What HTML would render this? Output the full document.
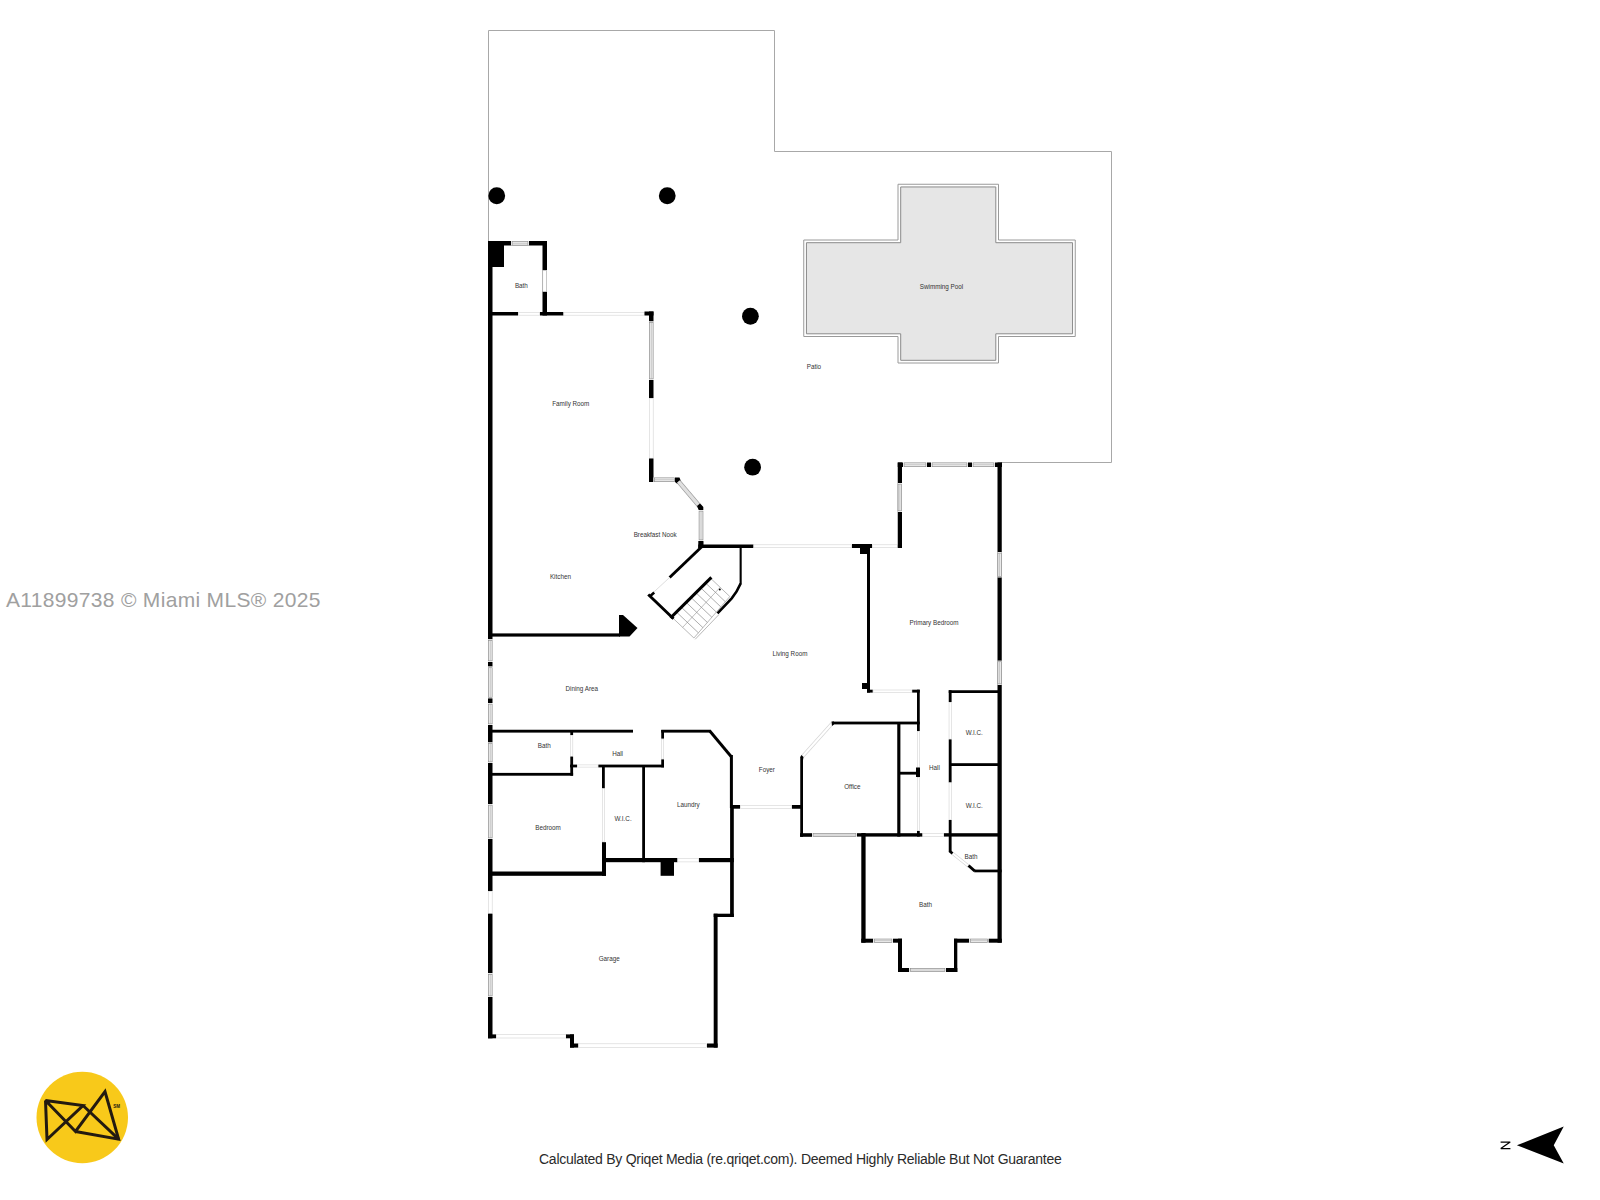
<!DOCTYPE html>
<html><head><meta charset="utf-8">
<style>
html,body{margin:0;padding:0;background:#fff;}
body{width:1600px;height:1200px;position:relative;overflow:hidden;font-family:"Liberation Sans",sans-serif;}
svg{position:absolute;left:0;top:0;}
.wm{position:absolute;left:6px;top:587.5px;font-size:21px;line-height:24px;color:#a0a0a0;white-space:nowrap;letter-spacing:0.32px;}
.foot{position:absolute;left:539px;top:1150px;font-size:14px;line-height:18px;color:#2a2a2a;white-space:nowrap;letter-spacing:-0.255px;}
</style></head><body>
<svg width="1600" height="1200" viewBox="0 0 1600 1200" font-family="Liberation Sans, sans-serif">
<g fill="#333">
<polyline points="488.5,241 488.5,30.5 774.5,30.5 774.5,151.5 1111.5,151.5 1111.5,462.5 1001,462.5" fill="none" stroke="#a8a8a8" stroke-width="1"/>
<circle cx="496.75" cy="195.75" r="8.4" fill="#000"/>
<circle cx="667.25" cy="195.75" r="8.4" fill="#000"/>
<circle cx="750.4" cy="316.25" r="8.4" fill="#000"/>
<circle cx="752.6" cy="467.2" r="8.4" fill="#000"/>
<polygon points="898,184.25 998.5,184.25 998.5,240 1075.25,240 1075.25,336.5 998.5,336.5 998.5,363 898,363 898,336.5 803.75,336.5 803.75,240 898,240" fill="#fff" stroke="#9a9a9a" stroke-width="1"/>
<polygon points="900.7,186.95 995.8,186.95 995.8,242.7 1072.55,242.7 1072.55,333.8 995.8,333.8 995.8,360.3 900.7,360.3 900.7,333.8 806.45,333.8 806.45,242.7 900.7,242.7" fill="#e6e6e6" stroke="#8a8a8a" stroke-width="1"/>
<rect x="488" y="241" width="4.5" height="398.4" fill="#000"/>
<rect x="488" y="241" width="16" height="26" fill="#000"/>
<rect x="488" y="241" width="59" height="4.5" fill="#000"/>
<rect x="511" y="241" width="18" height="4.5" fill="#fff"/>
<rect x="512.1" y="241.35" width="15.8" height="3.8" fill="#f0f0f0" stroke="#8e8e8e" stroke-width="0.7"/>
<line x1="512.1" y1="243.25" x2="527.9" y2="243.25" stroke="#a8a8a8" stroke-width="0.6"/>
<rect x="542.5" y="241" width="4.5" height="74.5" fill="#000"/>
<rect x="542.8" y="270.3" width="3.9" height="21.4" fill="#fff" stroke="#d4d4d4" stroke-width="0.6"/>
<rect x="492" y="312" width="26" height="3.5" fill="#000"/>
<rect x="518.3" y="312.3" width="21.4" height="2.9" fill="#fff" stroke="#d4d4d4" stroke-width="0.6"/>
<rect x="540" y="312" width="23.5" height="3.5" fill="#000"/>
<rect x="563.8" y="312.3" width="80.4" height="2.9" fill="#fff" stroke="#d4d4d4" stroke-width="0.6"/>
<rect x="644.5" y="311.5" width="9" height="4" fill="#000"/>
<rect x="649" y="311.5" width="4.5" height="10" fill="#000"/>
<rect x="649" y="321.5" width="4.5" height="58.5" fill="#fff"/>
<rect x="649.35" y="322.6" width="3.8" height="56.3" fill="#f0f0f0" stroke="#8e8e8e" stroke-width="0.7"/>
<line x1="651.25" y1="322.6" x2="651.25" y2="378.9" stroke="#a8a8a8" stroke-width="0.6"/>
<rect x="649" y="380" width="4.5" height="18" fill="#000"/>
<rect x="649.3" y="398.3" width="3.9" height="59.9" fill="#fff" stroke="#d4d4d4" stroke-width="0.6"/>
<rect x="649" y="458.5" width="4.5" height="23.5" fill="#000"/>
<rect x="653.5" y="477.5" width="22" height="4.5" fill="#fff"/>
<rect x="654.6" y="477.85" width="19.8" height="3.8" fill="#f0f0f0" stroke="#8e8e8e" stroke-width="0.7"/>
<line x1="654.6" y1="479.75" x2="674.4" y2="479.75" stroke="#a8a8a8" stroke-width="0.6"/>
<polygon points="675,477.5 679.5,477.5 681,481.5 677.5,484 675,482" fill="#000"/>
<line x1="678.5" y1="481.5" x2="701" y2="508" stroke="#9a9a9a" stroke-width="4.6"/>
<line x1="678.5" y1="481.5" x2="701" y2="508" stroke="#e0e0e0" stroke-width="3.4"/>
<polygon points="697,506 700,503.5 703.3,507 703.3,510 698.7,510" fill="#000"/>
<rect x="698.75" y="510" width="4.55" height="31" fill="#fff"/>
<rect x="699.1" y="511.1" width="3.85" height="28.8" fill="#f0f0f0" stroke="#8e8e8e" stroke-width="0.7"/>
<line x1="701.025" y1="511.1" x2="701.025" y2="539.9" stroke="#a8a8a8" stroke-width="0.6"/>
<rect x="698.3" y="541" width="5" height="7" fill="#000"/>
<rect x="698.3" y="544.5" width="55.2" height="3.5" fill="#000"/>
<rect x="753.8" y="544.8" width="97.9" height="2.9" fill="#fff" stroke="#d4d4d4" stroke-width="0.6"/>
<rect x="852" y="544" width="20" height="4" fill="#000"/>
<rect x="860" y="548" width="10" height="6" fill="#000"/>
<rect x="872.3" y="544.8" width="25.15" height="2.9" fill="#fff" stroke="#d4d4d4" stroke-width="0.6"/>
<rect x="897.75" y="462.5" width="4.25" height="85.5" fill="#000"/>
<rect x="897.75" y="483" width="4.25" height="29" fill="#fff"/>
<rect x="898.1" y="484.1" width="3.55" height="26.8" fill="#f0f0f0" stroke="#8e8e8e" stroke-width="0.7"/>
<line x1="899.875" y1="484.1" x2="899.875" y2="510.9" stroke="#a8a8a8" stroke-width="0.6"/>
<rect x="897.75" y="462.5" width="5.25" height="4.5" fill="#000"/>
<rect x="903" y="462.5" width="24" height="4.5" fill="#fff"/>
<rect x="904.1" y="462.85" width="21.8" height="3.8" fill="#f0f0f0" stroke="#8e8e8e" stroke-width="0.7"/>
<line x1="904.1" y1="464.75" x2="925.9" y2="464.75" stroke="#a8a8a8" stroke-width="0.6"/>
<rect x="927" y="462.5" width="4" height="4.5" fill="#000"/>
<rect x="931" y="462.5" width="37" height="4.5" fill="#fff"/>
<rect x="932.1" y="462.85" width="34.8" height="3.8" fill="#f0f0f0" stroke="#8e8e8e" stroke-width="0.7"/>
<line x1="932.1" y1="464.75" x2="966.9" y2="464.75" stroke="#a8a8a8" stroke-width="0.6"/>
<rect x="968" y="462.5" width="4" height="4.5" fill="#000"/>
<rect x="972" y="462.5" width="23" height="4.5" fill="#fff"/>
<rect x="973.1" y="462.85" width="20.8" height="3.8" fill="#f0f0f0" stroke="#8e8e8e" stroke-width="0.7"/>
<line x1="973.1" y1="464.75" x2="993.9" y2="464.75" stroke="#a8a8a8" stroke-width="0.6"/>
<rect x="995" y="462.5" width="7" height="4.5" fill="#000"/>
<rect x="997.5" y="462.5" width="4.25" height="480.2" fill="#000"/>
<rect x="997.5" y="552" width="4.25" height="25.5" fill="#fff"/>
<rect x="997.85" y="553.1" width="3.55" height="23.3" fill="#f0f0f0" stroke="#8e8e8e" stroke-width="0.7"/>
<line x1="999.625" y1="553.1" x2="999.625" y2="576.4" stroke="#a8a8a8" stroke-width="0.6"/>
<rect x="997.5" y="660.6" width="4.25" height="24.4" fill="#fff"/>
<rect x="997.85" y="661.7" width="3.55" height="22.2" fill="#f0f0f0" stroke="#8e8e8e" stroke-width="0.7"/>
<line x1="999.625" y1="661.7" x2="999.625" y2="683.9" stroke="#a8a8a8" stroke-width="0.6"/>
<rect x="867" y="553" width="3" height="139.6" fill="#000"/>
<rect x="862" y="683" width="8" height="6" fill="#000"/>
<rect x="867" y="689.7" width="5.8" height="2.9" fill="#000"/>
<rect x="873.1" y="690" width="38.8" height="2.3" fill="#fff" stroke="#d4d4d4" stroke-width="0.6"/>
<rect x="912.2" y="689.7" width="7.55" height="2.9" fill="#000"/>
<rect x="917" y="689.7" width="2.75" height="41.3" fill="#000"/>
<rect x="917.3" y="731.3" width="2.15" height="35.9" fill="#fff" stroke="#d4d4d4" stroke-width="0.6"/>
<rect x="916" y="767.5" width="4" height="9.5" fill="#000"/>
<rect x="917.3" y="777.3" width="2.15" height="53.4" fill="#fff" stroke="#d4d4d4" stroke-width="0.6"/>
<rect x="917" y="831" width="2.75" height="5.6" fill="#000"/>
<rect x="832.5" y="721.6" width="87.25" height="2.8" fill="#000"/>
<line x1="832.5" y1="723" x2="801.6" y2="757.5" stroke="#d4d4d4" stroke-width="3.4"/>
<line x1="832.5" y1="723" x2="801.6" y2="757.5" stroke="#fff" stroke-width="2.2"/>
<polygon points="831.5,721.6 834,721.6 834,724.4 832,726" fill="#000"/>
<rect x="800.25" y="757" width="2.75" height="79.8" fill="#000"/>
<polygon points="800.25,757 801.5,755 803.5,757 803,760" fill="#000"/>
<rect x="800" y="833.2" width="12" height="3.6" fill="#000"/>
<rect x="812" y="833.2" width="45" height="3.6" fill="#fff"/>
<rect x="813.1" y="833.55" width="42.8" height="2.9" fill="#f0f0f0" stroke="#8e8e8e" stroke-width="0.7"/>
<line x1="813.1" y1="835" x2="855.9" y2="835" stroke="#a8a8a8" stroke-width="0.6"/>
<rect x="857" y="833.2" width="65.5" height="3.4" fill="#000"/>
<rect x="897.25" y="722" width="3.15" height="114.6" fill="#000"/>
<rect x="900" y="771.8" width="19.75" height="2.8" fill="#000"/>
<rect x="792" y="805" width="11" height="3.75" fill="#000"/>
<rect x="740.3" y="805.3" width="51.4" height="3.15" fill="#fff" stroke="#d4d4d4" stroke-width="0.6"/>
<rect x="922.8" y="833.5" width="20.9" height="2.8" fill="#fff" stroke="#d4d4d4" stroke-width="0.6"/>
<rect x="948.75" y="690.25" width="2.85" height="11.75" fill="#000"/>
<rect x="949.05" y="702.3" width="2.25" height="36.8" fill="#fff" stroke="#d4d4d4" stroke-width="0.6"/>
<rect x="948.75" y="739.4" width="2.85" height="43.1" fill="#000"/>
<rect x="949.05" y="782.8" width="2.25" height="36.9" fill="#fff" stroke="#d4d4d4" stroke-width="0.6"/>
<rect x="948.75" y="820" width="2.85" height="32" fill="#000"/>
<rect x="948.75" y="690.25" width="52.25" height="2.75" fill="#000"/>
<rect x="951" y="763.2" width="50" height="2.8" fill="#000"/>
<rect x="944" y="833.2" width="57" height="3.4" fill="#000"/>
<line x1="951.5" y1="852.5" x2="969" y2="866.5" stroke="#d4d4d4" stroke-width="3"/>
<line x1="951.5" y1="852.5" x2="969" y2="866.5" stroke="#fff" stroke-width="1.8"/>
<line x1="949.5" y1="851" x2="952.5" y2="853.5" stroke="#000" stroke-width="2.6" stroke-linecap="butt"/>
<line x1="968.5" y1="865.5" x2="974.7" y2="871" stroke="#000" stroke-width="3" stroke-linecap="butt"/>
<rect x="974.2" y="869.6" width="27.4" height="2.7" fill="#000"/>
<rect x="861.3" y="833" width="4.3" height="109.7" fill="#000"/>
<rect x="861.3" y="938.7" width="12" height="4" fill="#000"/>
<rect x="873.3" y="938.7" width="19.7" height="4" fill="#fff"/>
<rect x="874.4" y="939.05" width="17.5" height="3.3" fill="#f0f0f0" stroke="#8e8e8e" stroke-width="0.7"/>
<line x1="874.4" y1="940.7" x2="891.9" y2="940.7" stroke="#a8a8a8" stroke-width="0.6"/>
<rect x="893" y="938.7" width="9" height="4" fill="#000"/>
<rect x="898" y="938.7" width="4" height="33.3" fill="#000"/>
<rect x="898" y="968" width="11.3" height="4" fill="#000"/>
<rect x="909.3" y="968" width="36.7" height="4" fill="#fff"/>
<rect x="910.4" y="968.35" width="34.5" height="3.3" fill="#f0f0f0" stroke="#8e8e8e" stroke-width="0.7"/>
<line x1="910.4" y1="970" x2="944.9" y2="970" stroke="#a8a8a8" stroke-width="0.6"/>
<rect x="946" y="968" width="11.3" height="4" fill="#000"/>
<rect x="954" y="938.7" width="3.3" height="33.3" fill="#000"/>
<rect x="954" y="938.7" width="15.3" height="4" fill="#000"/>
<rect x="969.3" y="938.7" width="19.4" height="4" fill="#fff"/>
<rect x="970.4" y="939.05" width="17.2" height="3.3" fill="#f0f0f0" stroke="#8e8e8e" stroke-width="0.7"/>
<line x1="970.4" y1="940.7" x2="987.6" y2="940.7" stroke="#a8a8a8" stroke-width="0.6"/>
<rect x="988.7" y="938.7" width="13.05" height="4" fill="#000"/>
<rect x="488" y="633.4" width="132" height="3.2" fill="#000"/>
<polygon points="619,615 623,615 637.5,628 629.5,636.6 619,636.6" fill="#000"/>
<rect x="488" y="639.4" width="4.5" height="22.6" fill="#fff"/>
<rect x="488.35" y="640.5" width="3.8" height="20.4" fill="#f0f0f0" stroke="#8e8e8e" stroke-width="0.7"/>
<line x1="490.25" y1="640.5" x2="490.25" y2="660.9" stroke="#a8a8a8" stroke-width="0.6"/>
<rect x="488" y="662" width="4.5" height="4.6" fill="#000"/>
<rect x="488" y="666.6" width="4.5" height="31.8" fill="#fff"/>
<rect x="488.35" y="667.7" width="3.8" height="29.6" fill="#f0f0f0" stroke="#8e8e8e" stroke-width="0.7"/>
<line x1="490.25" y1="667.7" x2="490.25" y2="697.3" stroke="#a8a8a8" stroke-width="0.6"/>
<rect x="488" y="698.4" width="4.5" height="4.6" fill="#000"/>
<rect x="488" y="703" width="4.5" height="22" fill="#fff"/>
<rect x="488.35" y="704.1" width="3.8" height="19.8" fill="#f0f0f0" stroke="#8e8e8e" stroke-width="0.7"/>
<line x1="490.25" y1="704.1" x2="490.25" y2="723.9" stroke="#a8a8a8" stroke-width="0.6"/>
<rect x="488" y="725" width="4.5" height="17.5" fill="#000"/>
<rect x="488" y="742.5" width="4.5" height="20.5" fill="#fff"/>
<rect x="488.35" y="743.6" width="3.8" height="18.3" fill="#f0f0f0" stroke="#8e8e8e" stroke-width="0.7"/>
<line x1="490.25" y1="743.6" x2="490.25" y2="761.9" stroke="#a8a8a8" stroke-width="0.6"/>
<rect x="488" y="763" width="4.5" height="41" fill="#000"/>
<rect x="488" y="804" width="4.5" height="35" fill="#fff"/>
<rect x="488.35" y="805.1" width="3.8" height="32.8" fill="#f0f0f0" stroke="#8e8e8e" stroke-width="0.7"/>
<line x1="490.25" y1="805.1" x2="490.25" y2="837.9" stroke="#a8a8a8" stroke-width="0.6"/>
<rect x="488" y="839" width="4.5" height="52" fill="#000"/>
<rect x="488.3" y="891.3" width="3.9" height="22.1" fill="#fff" stroke="#d4d4d4" stroke-width="0.6"/>
<rect x="488" y="913.7" width="4.5" height="59.6" fill="#000"/>
<rect x="488" y="973.3" width="4.5" height="23.7" fill="#fff"/>
<rect x="488.35" y="974.4" width="3.8" height="21.5" fill="#f0f0f0" stroke="#8e8e8e" stroke-width="0.7"/>
<line x1="490.25" y1="974.4" x2="490.25" y2="995.9" stroke="#a8a8a8" stroke-width="0.6"/>
<rect x="488" y="997" width="4.5" height="41.3" fill="#000"/>
<rect x="492" y="729.75" width="141" height="2.85" fill="#000"/>
<rect x="661.25" y="729.75" width="49.75" height="2.85" fill="#000"/>
<line x1="710" y1="731.2" x2="731.1" y2="756.5" stroke="#000" stroke-width="2.9" stroke-linecap="butt"/>
<rect x="729.9" y="755" width="3" height="53" fill="#000"/>
<rect x="730.1" y="805" width="3.7" height="112" fill="#000"/>
<rect x="570.3" y="730" width="2.8" height="5" fill="#000"/>
<rect x="570.6" y="735.3" width="2.2" height="21" fill="#fff" stroke="#d4d4d4" stroke-width="0.6"/>
<rect x="570.3" y="756.6" width="2.8" height="19.1" fill="#000"/>
<rect x="492" y="772.9" width="81.1" height="2.8" fill="#000"/>
<rect x="570" y="764.6" width="7" height="2.8" fill="#000"/>
<rect x="577.3" y="764.9" width="20.8" height="2.2" fill="#fff" stroke="#d4d4d4" stroke-width="0.6"/>
<rect x="598.4" y="764.6" width="65.6" height="2.8" fill="#000"/>
<rect x="661.25" y="730" width="2.75" height="8.75" fill="#000"/>
<rect x="661.55" y="739.05" width="2.15" height="20.05" fill="#fff" stroke="#d4d4d4" stroke-width="0.6"/>
<rect x="661.25" y="759.4" width="2.75" height="8" fill="#000"/>
<rect x="602" y="767" width="2.8" height="21.4" fill="#000"/>
<rect x="602.3" y="788.7" width="2.2" height="53.2" fill="#fff" stroke="#d4d4d4" stroke-width="0.6"/>
<rect x="602" y="842.2" width="4" height="33.6" fill="#000"/>
<rect x="642.2" y="767" width="2.8" height="95.2" fill="#000"/>
<rect x="732" y="805" width="8" height="3.7" fill="#000"/>
<rect x="492" y="871.5" width="114" height="4.3" fill="#000"/>
<rect x="602" y="858" width="75.5" height="4.2" fill="#000"/>
<rect x="677.8" y="858.3" width="20.9" height="3.6" fill="#fff" stroke="#d4d4d4" stroke-width="0.6"/>
<rect x="699" y="858" width="34.8" height="4.2" fill="#000"/>
<rect x="660.6" y="858" width="13.4" height="17.8" fill="#000"/>
<rect x="713.7" y="913.7" width="3.9" height="133.9" fill="#000"/>
<rect x="713.7" y="913.7" width="20.1" height="3.3" fill="#000"/>
<rect x="488" y="1034.4" width="8" height="3.9" fill="#000"/>
<rect x="496.3" y="1034.7" width="69.8" height="3.3" fill="#fff" stroke="#d4d4d4" stroke-width="0.6"/>
<rect x="566" y="1034.4" width="8" height="3.9" fill="#000"/>
<rect x="570" y="1034.4" width="4" height="13.2" fill="#000"/>
<rect x="570" y="1043.5" width="8.3" height="4.1" fill="#000"/>
<rect x="578.6" y="1043.8" width="128.1" height="3.5" fill="#fff" stroke="#d4d4d4" stroke-width="0.6"/>
<rect x="707" y="1043.5" width="10.6" height="4.1" fill="#000"/>
<polygon points="710.5,578.2 729.8,596.5 693.9,638 671.4,616.7" fill="none" stroke="#9a9a9a" stroke-width="0.7"/>
<line x1="695.2" y1="639.3" x2="719" y2="614.5" stroke="#9a9a9a" stroke-width="0.7"/>
<line x1="720.15" y1="587.35" x2="682.65" y2="627.35" stroke="#a0a0a0" stroke-width="0.7"/>
<line x1="676.29" y1="611.89" x2="698.39" y2="632.81" stroke="#8a8a8a" stroke-width="0.7"/>
<line x1="681.17" y1="607.08" x2="702.88" y2="627.62" stroke="#8a8a8a" stroke-width="0.7"/>
<line x1="686.06" y1="602.26" x2="707.36" y2="622.44" stroke="#8a8a8a" stroke-width="0.7"/>
<line x1="690.95" y1="597.45" x2="711.85" y2="617.25" stroke="#8a8a8a" stroke-width="0.7"/>
<line x1="695.84" y1="592.64" x2="716.34" y2="612.06" stroke="#8a8a8a" stroke-width="0.7"/>
<line x1="700.73" y1="587.83" x2="720.82" y2="606.88" stroke="#8a8a8a" stroke-width="0.7"/>
<line x1="705.61" y1="583.01" x2="725.31" y2="601.69" stroke="#8a8a8a" stroke-width="0.7"/>
<circle cx="719.8" cy="589.5" r="1" fill="#000"/>
<rect x="699.2" y="541.25" width="4.1" height="6.75" fill="#000"/>
<line x1="702" y1="546.5" x2="669.6" y2="577.5" stroke="#000" stroke-width="2.9" stroke-linecap="butt"/>
<line x1="669.6" y1="577.5" x2="653.3" y2="592.5" stroke="#d4d4d4" stroke-width="0.8"/>
<line x1="654.2" y1="592.6" x2="650" y2="596.2" stroke="#000" stroke-width="2.6" stroke-linecap="butt"/>
<line x1="649.3" y1="595.5" x2="672.5" y2="617.7" stroke="#000" stroke-width="2.9" stroke-linecap="square"/>
<line x1="671.6" y1="616.9" x2="710.3" y2="578.4" stroke="#000" stroke-width="3" stroke-linecap="square"/>
<rect x="739.6" y="548" width="2.1" height="36" fill="#000"/>
<path d="M740.65,583.5 Q737,592 731.7,598.3 L717.5,613.3" fill="none" stroke="#000" stroke-width="2.6"/>
<text x="521.4" y="285" font-size="6.3" text-anchor="middle" dominant-baseline="central">Bath</text>
<text x="941.5" y="286.25" font-size="6.3" text-anchor="middle" dominant-baseline="central">Swimming Pool</text>
<text x="813.9" y="366.75" font-size="6.3" text-anchor="middle" dominant-baseline="central">Patio</text>
<text x="570.8" y="403.8" font-size="6.3" text-anchor="middle" dominant-baseline="central">Family Room</text>
<text x="655.2" y="534" font-size="6.3" text-anchor="middle" dominant-baseline="central">Breakfast Nook</text>
<text x="560.4" y="576.25" font-size="6.3" text-anchor="middle" dominant-baseline="central">Kitchen</text>
<text x="789.9" y="653.5" font-size="6.3" text-anchor="middle" dominant-baseline="central">Living Room</text>
<text x="934" y="622.9" font-size="6.3" text-anchor="middle" dominant-baseline="central">Primary Bedroom</text>
<text x="581.8" y="688.5" font-size="6.3" text-anchor="middle" dominant-baseline="central">Dining Area</text>
<text x="544.2" y="745.9" font-size="6.3" text-anchor="middle" dominant-baseline="central">Bath</text>
<text x="617.6" y="753.4" font-size="6.3" text-anchor="middle" dominant-baseline="central">Hall</text>
<text x="974.3" y="732.8" font-size="6.3" text-anchor="middle" dominant-baseline="central">W.I.C.</text>
<text x="934.4" y="767" font-size="6.3" text-anchor="middle" dominant-baseline="central">Hall</text>
<text x="766.9" y="769.4" font-size="6.3" text-anchor="middle" dominant-baseline="central">Foyer</text>
<text x="852.3" y="786.6" font-size="6.3" text-anchor="middle" dominant-baseline="central">Office</text>
<text x="974.3" y="805" font-size="6.3" text-anchor="middle" dominant-baseline="central">W.I.C.</text>
<text x="688.4" y="804.8" font-size="6.3" text-anchor="middle" dominant-baseline="central">Laundry</text>
<text x="548" y="827.7" font-size="6.3" text-anchor="middle" dominant-baseline="central">Bedroom</text>
<text x="623.1" y="818.4" font-size="6.3" text-anchor="middle" dominant-baseline="central">W.I.C.</text>
<text x="971" y="856" font-size="6.3" text-anchor="middle" dominant-baseline="central">Bath</text>
<text x="925.6" y="904" font-size="6.3" text-anchor="middle" dominant-baseline="central">Bath</text>
<text x="609.2" y="958.5" font-size="6.3" text-anchor="middle" dominant-baseline="central">Garage</text>
</g>
<!-- logo -->
<circle cx="82.25" cy="1117.5" r="45.75" fill="#f8c91a"/>
<g fill="none" stroke="#231a10" stroke-width="3" stroke-linejoin="miter" stroke-miterlimit="2.5" stroke-linecap="butt">
<polyline points="45.5,1100.5 47,1139.5 83,1105.5 45.5,1100.5 75.5,1131.5 105,1091.5 118.6,1139.2 75.5,1131.5"/>
<line x1="83" y1="1105.5" x2="118.6" y2="1139.2"/>
</g>
<text x="116.5" y="1107.5" font-size="4.5" fill="#231a10" text-anchor="middle" font-weight="bold">SM</text>
<!-- north arrow -->
<polygon points="1516.9,1145.3 1563.75,1126.6 1553.75,1145.3 1563.75,1163.4" fill="#000"/>
<g stroke="#000" stroke-width="1.25" fill="none" stroke-linejoin="bevel"><polyline points="1500.6,1142 1510.2,1142 1500.8,1148.6 1510.4,1148.6"/></g>
</svg>
<div class="wm">A11899738 © Miami MLS® 2025</div>
<div class="foot">Calculated By Qriqet Media (re.qriqet.com). Deemed Highly Reliable But Not Guarantee</div>
</body></html>
